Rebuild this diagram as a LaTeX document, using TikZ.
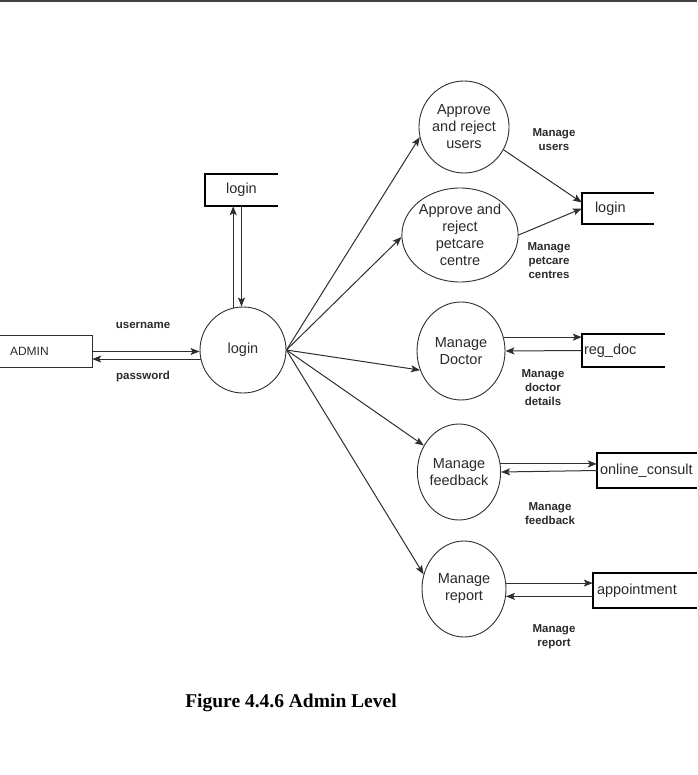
\documentclass[tikz,border=0pt]{standalone}
\usepackage{fontspec}
\setmainfont{Liberation Sans}
\newfontfamily\capfont{Liberation Serif}
\usetikzlibrary{shapes.geometric,arrows.meta,calc}
\definecolor{ink}{HTML}{2A2A2A}
\definecolor{linec}{HTML}{2E2E2E}
\definecolor{barc}{HTML}{404040}
\tikzset{
  proc/.style={ellipse, draw=linec, line width=0.9pt, inner sep=0pt, align=center, text=ink,
    font=\fontsize{14.5}{17}\selectfont},
  store/.style={inner xsep=0pt, inner ysep=0pt, text=ink, font=\fontsize{14.5}{17}\selectfont},
  lab/.style={align=center, text=ink, font=\bfseries\fontsize{11.5}{14}\selectfont},
  flow/.style={draw=linec, line width=1pt, -{Stealth[length=9pt,width=7pt,inset=2pt]}},
  storeline/.style={draw=black, line width=2pt},
  boxline/.style={draw=linec, line width=1.2pt},
}
\begin{document}
\begin{tikzpicture}[x=1pt,y=-1pt]
\useasboundingbox (0,0) rectangle (697,775);
\fill[barc] (0,0) rectangle (697,2.5);

% external entity
\node[store, font=\fontsize{12}{14}\selectfont, minimum height=31pt, text width=72pt, inner xsep=10pt, align=left] (admin) at (46,351.5) {ADMIN};
\draw[boxline] (admin.north west) -- (admin.north east) -- (admin.south east) -- (admin.south west);

% processes
\node[proc, minimum width=86pt, minimum height=86pt] (login) at (243,350) {login};
\node[proc, minimum width=82pt, minimum height=92pt] (users) at (464,127) {Approve\\and reject\\users};
\node[proc, minimum width=90pt, minimum height=94pt] (pc) at (460,235) {Approve and\\reject\\petcare\\centre};
\node[proc, minimum width=88pt, minimum height=98pt] (doctor) at (461,351) {Manage\\Doctor};
\node[proc, minimum width=82pt, minimum height=96pt] (fb) at (459,472) {Manage\\feedback};
\node[proc, minimum width=84pt, minimum height=96pt] (rep) at (464,589) {Manage\\report};

% data stores
\node[store, minimum width=73pt, minimum height=32pt] (slogin) at (241.5,190) {login};
\draw[storeline] (slogin.north east) -- (slogin.north west) -- (slogin.south west) -- (slogin.south east);
\node[store, minimum height=31pt, text width=46pt, inner xsep=13pt, align=left] (slogin2) at (618,208.5) {login};
\draw[storeline] (slogin2.north east) -- (slogin2.north west) -- (slogin2.south west) -- (slogin2.south east);
\node[store, minimum height=33pt, text width=79pt, inner xsep=2pt, align=left] (regdoc) at (623.5,350.5) {reg\_doc};
\draw[storeline] (regdoc.north east) -- (regdoc.north west) -- (regdoc.south west) -- (regdoc.south east);
\node[store, minimum height=35pt, text width=94pt, inner xsep=3pt, align=left] (oc) at (647,470.5) {online\_consult};
\draw[storeline] (oc.north east) -- (oc.north west) -- (oc.south west) -- (oc.south east);
\node[store, minimum height=35pt, text width=96pt, inner xsep=4pt, align=left] (app) at (645,590.5) {appointment};
\draw[storeline] (app.north east) -- (app.north west) -- (app.south west) -- (app.south east);

% flows
\draw[flow] (admin.east) -- (admin.east -| login.west);
\draw[flow] (login.192) -- (login.192 -| admin.east);
\draw[flow] (login.103) -- (login.103 |- slogin.south);
\draw[flow] (slogin.south) -- (slogin.south |- login.north);

\draw[flow] (login.east) -- (users.193);
\draw[flow] (login.east) -- (pc.182);
\draw[flow] (login.east) -- (doctor.205);
\draw[flow] (login.east) -- (fb.143);
\draw[flow] (login.east) -- (rep.160);

\draw[flow] (users.-30) -- ([yshift=6pt]slogin2.west);
\draw[flow] (pc.east) -- (slogin2.west);
\draw[flow] (doctor.18) -- (doctor.18 -| regdoc.west);
\draw[flow] (regdoc.west) -- (doctor.east);
\draw[flow] (fb.11) -- (fb.11 -| oc.west);
\draw[flow] (oc.west) -- (fb.east);
\draw[flow] (rep.8) -- (rep.8 -| app.west);
\draw[flow] (app.west |- rep.-10) -- (rep.-10);

% labels
\node[lab] (lu) at (143,325) {username};
\node[lab] (lp) at (143,377) {password};
\node[lab] (lmu) at (554,140) {Manage\\users};
\node[lab] (lmp) at (549,261) {Manage\\petcare\\centres};
\node[lab] (lmd) at (543,388) {Manage\\doctor\\details};
\node[lab] (lmf) at (550,514) {Manage\\feedback};
\node[lab] (lmr) at (554,637) {Manage\\report};

\node[text=black, font=\capfont\bfseries\fontsize{19.5}{22}\selectfont] (cap) at (291,703) {Figure 4.4.6 Admin Level};
\end{tikzpicture}
\end{document}
